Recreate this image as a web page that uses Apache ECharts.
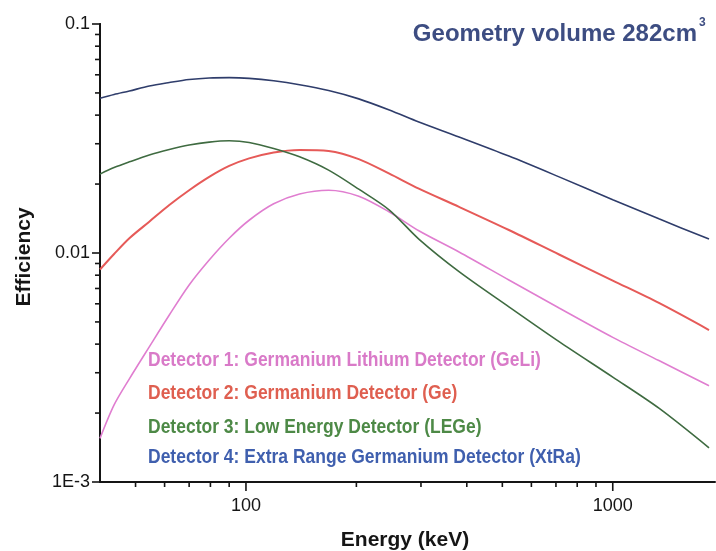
<!DOCTYPE html>
<html>
<head>
<meta charset="utf-8">
<title>Detector efficiency</title>
<script src="https://cdn.jsdelivr.net/npm/echarts@6.0.0/dist/echarts.min.js"></script>
<style>
  html, body { margin: 0; padding: 0; background: #ffffff; }
  #chart { width: 716px; height: 551px; }
</style>
</head>
<body>
<div id="chart"></div>
<script>
// Photon energy (keV) at which each efficiency curve is sampled
const energy = [40, 43.7, 48.1, 54.5, 61.8, 70, 79.4, 90, 102, 119, 140, 168, 203, 246, 296, 381, 521, 714, 1000, 1336, 1830];

// Full-energy peak efficiency per detector
const geliEff = [0.00155, 0.00217, 0.00282, 0.00389, 0.00536, 0.00725, 0.00932, 0.0116, 0.0139, 0.0164, 0.0181, 0.0188, 0.0177, 0.0151, 0.0125, 0.0101, 0.00762, 0.00575, 0.00428, 0.00339, 0.00263];
const geEff   = [0.00847, 0.0099, 0.0116, 0.0137, 0.0162, 0.0188, 0.0215, 0.0240, 0.0259, 0.0275, 0.0282, 0.0279, 0.0257, 0.0222, 0.0191, 0.0159, 0.0126, 0.00985, 0.00758, 0.00605, 0.00461];
const legeEff = [0.0221, 0.0236, 0.0250, 0.0268, 0.0283, 0.0296, 0.0305, 0.0309, 0.0304, 0.0286, 0.0263, 0.0230, 0.0190, 0.0154, 0.0115, 0.00829, 0.00582, 0.00410, 0.00287, 0.00210, 0.00141];
const xtraEff = [0.0474, 0.0492, 0.0510, 0.0536, 0.0555, 0.0572, 0.0581, 0.0583, 0.0579, 0.0565, 0.0543, 0.0512, 0.0471, 0.0421, 0.0373, 0.0321, 0.0265, 0.0215, 0.0171, 0.0141, 0.0115];

const detectorNames = [
  'Detector 1: Germanium Lithium Detector (GeLi)',
  'Detector 2: Germanium Detector (Ge)',
  'Detector 3: Low Energy Detector (LEGe)',
  'Detector 4: Extra Range Germanium Detector (XtRa)'
];

// Axis ranges, ticks and tick labels
const X_MIN = 40, X_MAX = 1900;
const Y_MIN = 0.001, Y_MAX = 0.1;
const xMajorTicks = [100, 1000];
const xTickLabels = ['100', '1000'];
const xMinorTicks = [50, 60, 70, 80, 90, 200, 300, 400, 500, 600, 700, 800, 900];
const yMajorTicks = [0.001, 0.01, 0.1];
const yTickLabels = ['1E-3', '0.01', '0.1'];
const yMinorTicks = [0.002, 0.003, 0.004, 0.005, 0.006, 0.007, 0.008, 0.009,
                     0.02, 0.03, 0.04, 0.05, 0.06, 0.07, 0.08, 0.09];

const titleText = 'Geometry volume 282cm';
const titleSup = '3';
const xAxisTitle = 'Energy (keV)';
const yAxisTitle = 'Efficiency';

const FONT = '"Liberation Sans", Arial, Helvetica, sans-serif';
const INK = '#151515';
const curveColors = ['#e07ed0', '#e65a58', '#3f6b41', '#2f3d6b'];
const labelColors = ['#d97ac8', '#df5f50', '#4d8946', '#3f5fae'];

function labelFor(v, values, labels) {
  for (let i = 0; i < values.length; i++) {
    if (Math.abs(Math.log10(v / values[i])) < 1e-6) return labels[i];
  }
  return '';
}

function pairs(ys) { return energy.map((e, i) => [e, ys[i]]); }

const chart = echarts.init(document.getElementById('chart'), null, { renderer: 'canvas' });

const lineSeries = [geliEff, geEff, legeEff, xtraEff].map((ys, i) => ({
  type: 'line',
  name: detectorNames[i],
  data: pairs(ys),
  showSymbol: false,
  smooth: 0.3,
  lineStyle: { color: curveColors[i], width: i === 1 ? 2 : 1.6 },
  itemStyle: { color: curveColors[i] },
  z: 3
}));

// Tick marks drawn through the axes' own scales
const xTickSeries = {
  type: 'custom',
  coordinateSystem: 'cartesian2d',
  silent: true,
  clip: false,
  z: 6,
  data: xMinorTicks.map(v => [v, Y_MIN, 0]).concat(xMajorTicks.map(v => [v, Y_MIN, 1])),
  encode: { x: 0, y: 1 },
  renderItem: function (params, api) {
    const p = api.coord([api.value(0), api.value(1)]);
    const len = api.value(2) ? 9 : 5;
    return {
      type: 'line',
      shape: { x1: p[0], y1: p[1] - 1, x2: p[0], y2: p[1] + len },
      style: { stroke: INK, lineWidth: 1.6 }
    };
  }
};

const yTickSeries = {
  type: 'custom',
  coordinateSystem: 'cartesian2d',
  silent: true,
  clip: false,
  z: 6,
  data: yMinorTicks.map(v => [X_MIN, v, 0]).concat(yMajorTicks.map(v => [X_MIN, v, 1])),
  encode: { x: 0, y: 1 },
  renderItem: function (params, api) {
    const p = api.coord([api.value(0), api.value(1)]);
    const len = api.value(2) ? 8 : 5;
    return {
      type: 'line',
      shape: { x1: p[0] + 1, y1: p[1], x2: p[0] - len, y2: p[1] },
      style: { stroke: INK, lineWidth: 1.6 }
    };
  }
};

const legendRowsY = [360, 393, 427, 457];

const graphics = [
  {
    type: 'text',
    right: 716 - 697,
    top: 22,
    style: { text: titleText, font: 'bold 24px ' + FONT, fill: '#3d4d82' }
  },
  {
    type: 'text',
    left: 699,
    top: 17,
    style: { text: titleSup, font: 'bold 12px ' + FONT, fill: '#3d4d82' }
  },
  {
    type: 'text',
    x: 405,
    y: 540,
    style: { text: xAxisTitle, font: 'bold 21px ' + FONT, fill: INK, align: 'center', verticalAlign: 'middle' }
  },
  {
    type: 'text',
    x: 24,
    y: 257,
    rotation: Math.PI / 2,
    style: { text: yAxisTitle, font: 'bold 21px ' + FONT, fill: INK, align: 'center', verticalAlign: 'middle' }
  }
].concat(detectorNames.map((name, i) => ({
  type: 'text',
  x: 148,
  y: legendRowsY[i],
  scaleY: 1.15,
  style: { text: name, font: 'bold 17.5px ' + FONT, fill: labelColors[i], align: 'left', verticalAlign: 'middle' }
})));

chart.setOption({
  animation: false,
  backgroundColor: '#ffffff',
  grid: { left: 100, top: 24, width: 615, height: 458, containLabel: false },
  xAxis: {
    type: 'log',
    logBase: 10,
    min: X_MIN,
    max: X_MAX,
    axisLine: { show: true, lineStyle: { color: INK, width: 2 } },
    axisTick: { show: false },
    splitLine: { show: false },
    axisLabel: {
      margin: 15,
      fontSize: 18,
      fontFamily: FONT,
      color: INK,
      showMinLabel: false,
      showMaxLabel: false,
      formatter: v => labelFor(v, xMajorTicks, xTickLabels)
    }
  },
  yAxis: {
    type: 'log',
    logBase: 10,
    min: Y_MIN,
    max: Y_MAX,
    axisLine: { show: true, lineStyle: { color: INK, width: 2 } },
    axisTick: { show: false },
    splitLine: { show: false },
    axisLabel: {
      margin: 10,
      fontSize: 18,
      fontFamily: FONT,
      color: INK,
      formatter: v => labelFor(v, yMajorTicks, yTickLabels)
    }
  },
  series: lineSeries.concat([xTickSeries, yTickSeries]),
  graphic: graphics
});
</script>
</body>
</html>
